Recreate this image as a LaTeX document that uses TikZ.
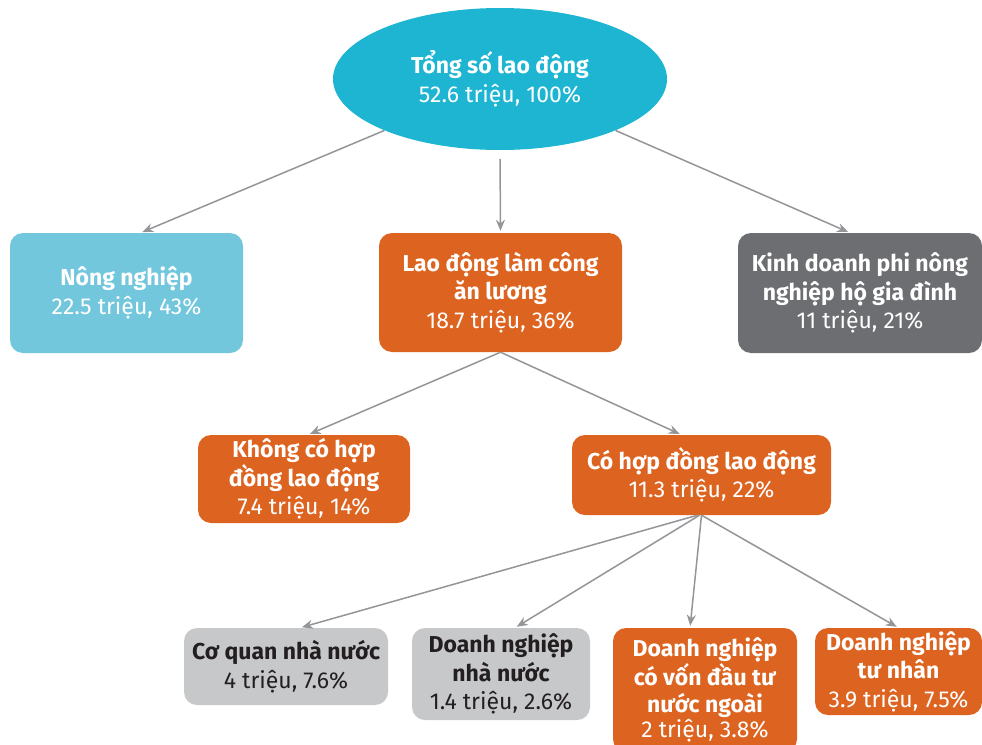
\documentclass[tikz,border=0pt]{standalone}
\usepackage{fontspec}
\setmainfont{Fira Sans}
\usetikzlibrary{shapes.geometric,arrows.meta}

\definecolor{topcyan}{HTML}{1DB5D2}
\definecolor{farmblue}{HTML}{72C7DD}
\definecolor{wageorange}{HTML}{DD6420}
\definecolor{hhgray}{HTML}{6D6E71}
\definecolor{pubgray}{HTML}{C7C8CA}
\definecolor{inkdark}{HTML}{231F20}
\definecolor{linkgray}{HTML}{939598}

\begin{document}
\begin{tikzpicture}[
        x=1pt, y=-1pt,
        every node/.style={font=\fontsize{23}{28.5}\selectfont, align=center},
        card/.style={rounded corners=13pt, inner sep=0pt},
        orange/.style={card, fill=wageorange, text=white},
        pale/.style={card, fill=pubgray, text=inkdark},
        link/.style={draw=linkgray, line width=1.5pt,
            -{Stealth[length=11pt, width=9pt]}, shorten >=2pt},
    ]
    \useasboundingbox (0,0) rectangle (982,744);

    \node[ellipse, fill=topcyan, text=white, minimum width=334pt, minimum height=142pt]
        (total) at (500,79) {\textbf{Tổng số lao động}\\52.6 triệu, 100\%};

    % second row
    \node[card, fill=farmblue, text=white, minimum width=233pt, minimum height=120pt]
        (farm) at (126.5,293) {\textbf{Nông nghiệp}\\22.5 triệu, 43\%};
    \node[orange, minimum width=243pt, minimum height=119pt]
        (wage) at (500.5,292.5) {\textbf{Lao động làm công}\\\textbf{ăn lương}\\18.7 triệu, 36\%};
    \node[card, fill=hhgray, text=white, minimum width=244pt, minimum height=120pt]
        (house) at (860,293) {\textbf{Kinh doanh phi nông}\\\textbf{nghiệp hộ gia đình}\\11 triệu, 21\%};

    % third row
    \node[orange, minimum width=212pt, minimum height=88pt]
        (nocontract) at (304,479) {\textbf{Không có hợp}\\\textbf{đồng lao động}\\7.4 triệu, 14\%};
    \node[orange, minimum width=259pt, minimum height=80pt]
        (contract) at (701.5,475) {\textbf{Có hợp đồng lao động}\\11.3 triệu, 22\%};

    % bottom row
    \node[pale, minimum width=204pt, minimum height=77pt]
        (agency) at (286,666.5) {\textbf{Cơ quan nhà nước}\\4 triệu, 7.6\%};
    \node[pale, minimum width=178pt, minimum height=92pt]
        (soe) at (501,674) {\textbf{Doanh nghiệp}\\\textbf{nhà nước}\\1.4 triệu, 2.6\%};
    \node[orange, minimum width=184pt, minimum height=124pt,
        font=\fontsize{23}{27}\selectfont]
        (fdi) at (705,690) {\textbf{Doanh nghiệp}\\\textbf{có vốn đầu tư}\\\textbf{nước ngoài}\\[-2pt]2 triệu, 3.8\%};
    \node[orange, minimum width=167pt, minimum height=87pt]
        (private) at (898.5,671.5) {\textbf{Doanh nghiệp}\\\textbf{tư nhân}\\3.9 triệu, 7.5\%};

    \draw[link] (total.204) -- ([xshift=14pt]farm.north);
    \draw[link, shorten <=9pt] (total.south) -- (wage.north);
    \draw[link] (total.336) -- ([xshift=-10pt]house.north);

    \draw[link] (wage.south) -- ([xshift=4pt]nocontract.north);
    \draw[link] (wage.south) -- ([xshift=-20pt]contract.north);

    \draw[link] ([xshift=-4pt]contract.south) -- ([xshift=14pt]agency.north);
    \draw[link] ([xshift=-2pt]contract.south) -- ([xshift=14pt]soe.north);
    \draw[link] (contract.south) -- ([xshift=-15pt]fdi.north);
    \draw[link] (contract.south) -- (private.north);

\end{tikzpicture}
\end{document}
